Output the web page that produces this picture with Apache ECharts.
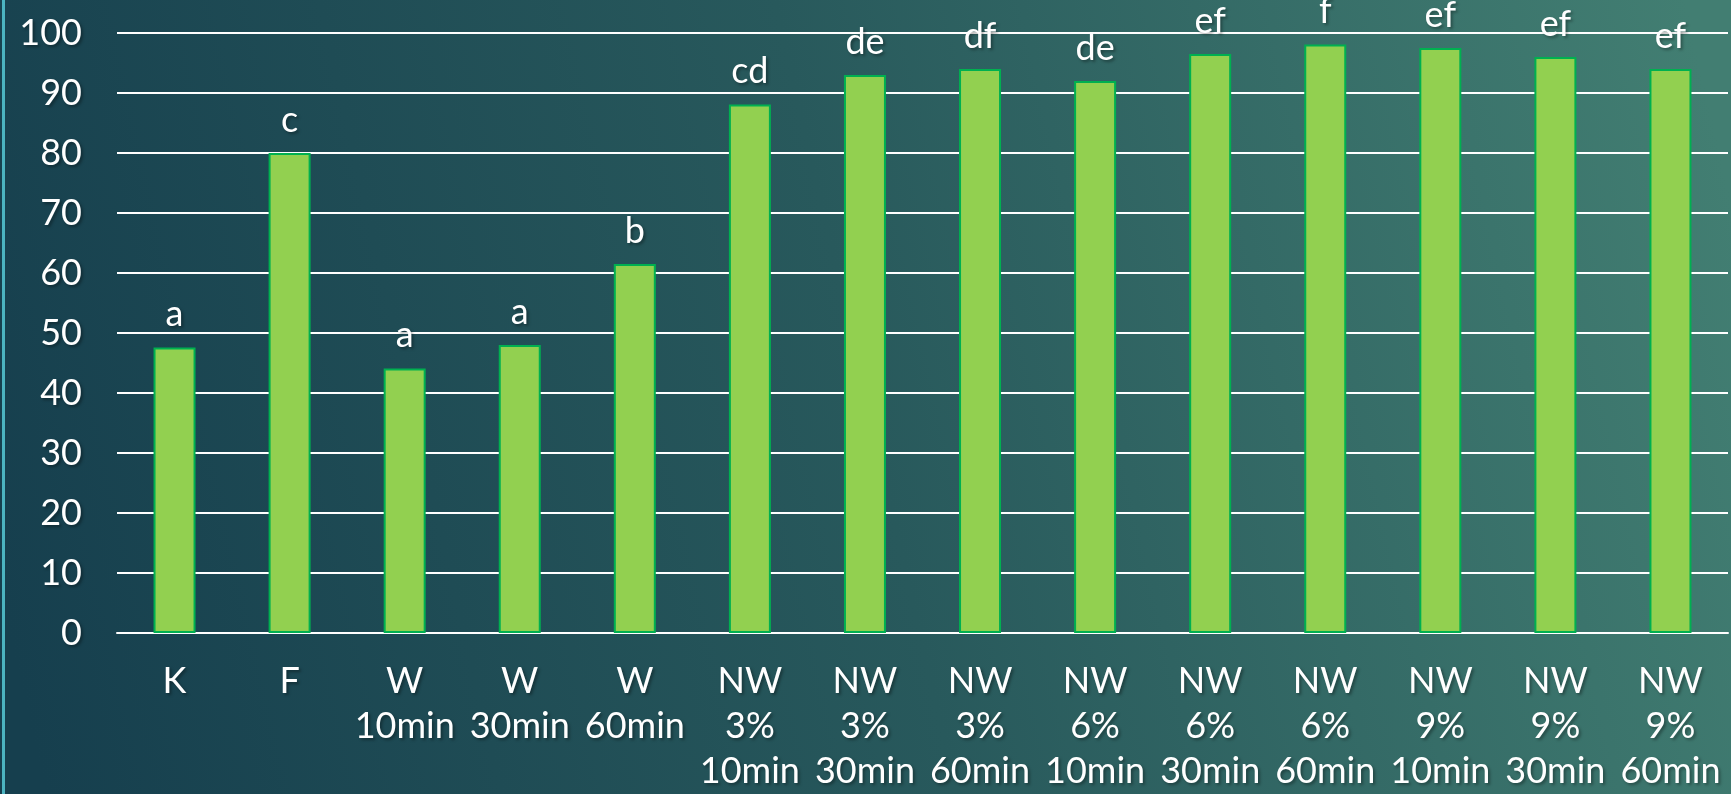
<!DOCTYPE html>
<html>
<head>
<meta charset="utf-8">
<script src="https://cdn.jsdelivr.net/npm/echarts@6/dist/echarts.min.js"></script>
<style>
  html, body { margin: 0; padding: 0; background: #1c4a55; }
  #chart { width: 1731px; height: 794px; }
</style>
</head>
<body>
<div id="chart"></div>
<script>
// Treatment groups (multi-line axis labels)
const categories = [
  'K', 'F', 'W\n10min', 'W\n30min', 'W\n60min',
  'NW\n3%\n10min', 'NW\n3%\n30min', 'NW\n3%\n60min',
  'NW\n6%\n10min', 'NW\n6%\n30min', 'NW\n6%\n60min',
  'NW\n9%\n10min', 'NW\n9%\n30min', 'NW\n9%\n60min'
];
// Measured values per group
const values = [47.6, 80.0, 44.1, 48.0, 61.5, 88.1, 93.0, 94.0, 92.0, 96.5, 98.1, 97.5, 96.0, 94.0];
// Significance letters above each bar
const letters = ['a', 'c', 'a', 'a', 'b', 'cd', 'de', 'df', 'de', 'ef', 'f', 'ef', 'ef', 'ef'];
// Y axis range
const yMin = 0, yMax = 100, yStep = 10;

const FONT = 'Lato, "Open Sans", sans-serif';
const shadow = {
  textShadowColor: 'rgba(0,0,0,0.35)',
  textShadowBlur: 3,
  textShadowOffsetX: 2,
  textShadowOffsetY: 2
};

const chart = echarts.init(document.getElementById('chart'), null, { renderer: 'canvas' });
chart.setOption({
  backgroundColor: new echarts.graphic.LinearGradient(0, 0.75, 1, 0.25, [
    { offset: 0, color: '#163f4e' },
    { offset: 0.5, color: '#28595c' },
    { offset: 1, color: '#427e72' }
  ]),
  animation: false,
  graphic: [{
    type: 'rect',
    left: 2, top: 0,
    shape: { width: 3, height: 794 },
    style: { fill: '#4cb4c1' },
    z: 10
  }],
  grid: { left: 117, right: 3, top: 33, bottom: 160, containLabel: false },
  xAxis: {
    type: 'category',
    data: categories,
    axisTick: { show: false },
    axisLine: { show: true, lineStyle: { color: '#ffffff', width: 2 } },
    axisLabel: Object.assign({
      color: '#ffffff',
      fontFamily: FONT,
      fontSize: 36,
      lineHeight: 45,
      margin: 26,
      interval: 0
    }, shadow)
  },
  yAxis: {
    type: 'value',
    min: yMin, max: yMax, interval: yStep,
    axisLine: { show: false },
    axisTick: { show: false },
    splitLine: { lineStyle: { color: '#ffffff', width: 2 } },
    axisLabel: Object.assign({
      color: '#ffffff',
      fontFamily: FONT,
      fontSize: 36,
      margin: 35
    }, shadow)
  },
  series: [{
    type: 'bar',
    data: values.map((v, i) => ({ value: v, label: { formatter: letters[i] } })),
    barWidth: 42,
    itemStyle: { color: '#92d050', borderColor: '#00b050', borderWidth: 2 },
    label: Object.assign({
      show: true,
      position: 'top',
      distance: 15,
      color: '#ffffff',
      fontFamily: FONT,
      fontSize: 36,
      lineHeight: 36
    }, shadow),
    z: 3
  }]
});
</script>
</body>
</html>
